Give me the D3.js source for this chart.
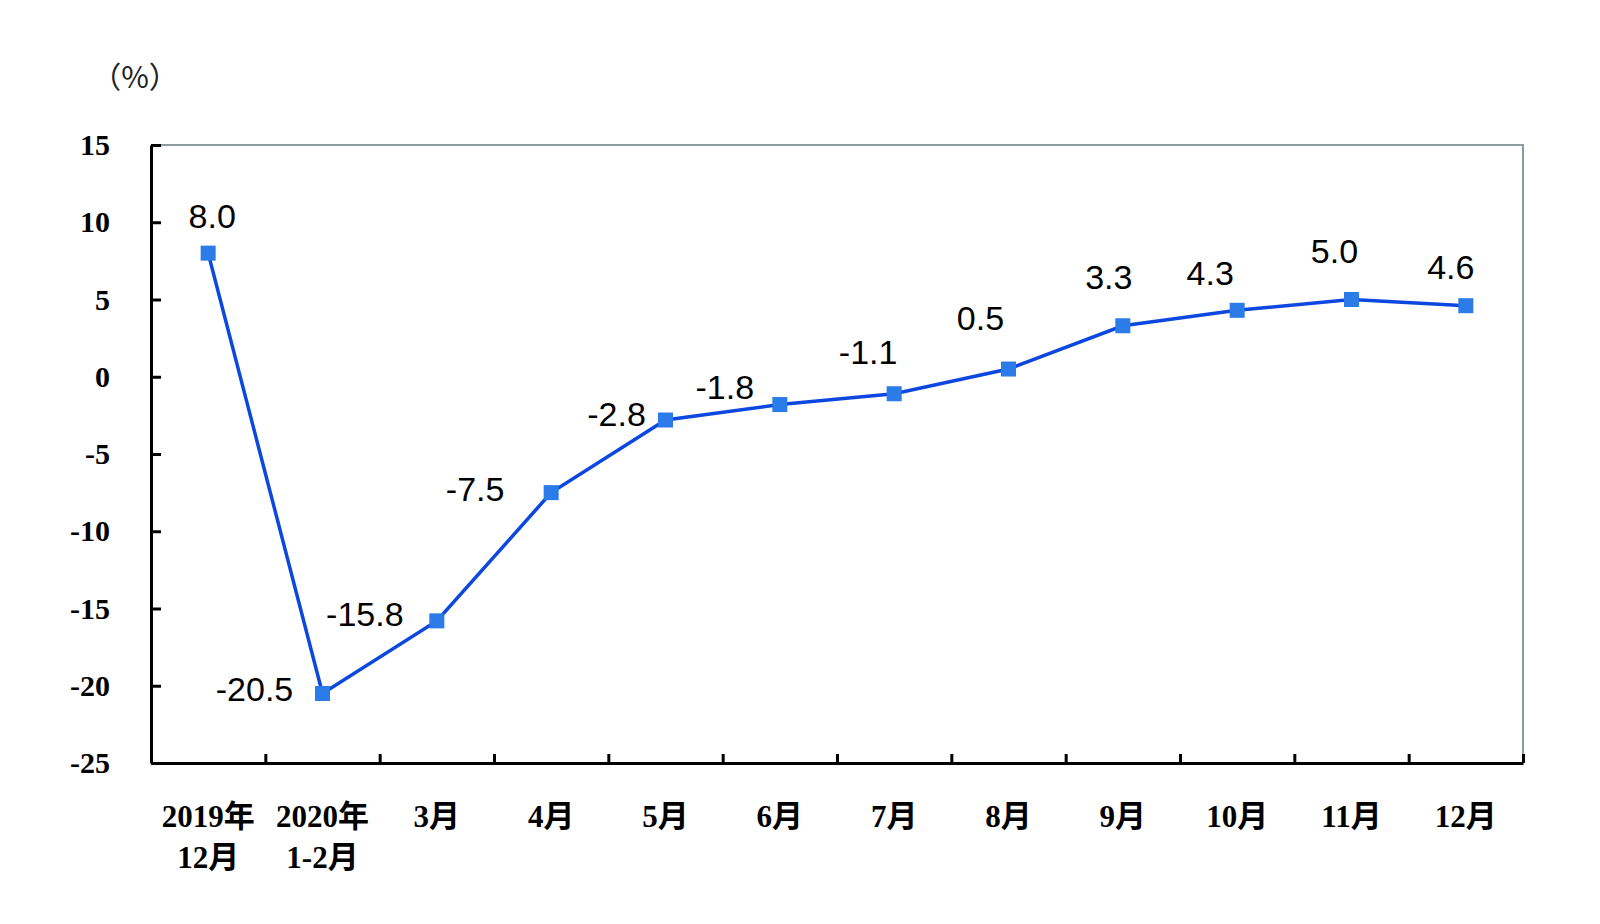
<!DOCTYPE html>
<html>
<head>
<meta charset="utf-8">
<script src="https://cdn.jsdelivr.net/npm/d3@7"></script>
<style>
  html, body { margin: 0; padding: 0; background: #fff; }
  svg { display: block; }
</style>
</head>
<body>
<svg id="chart" width="1600" height="924"></svg>
<script>
// ---- data ----
const categories = ["2019年\n12月", "2020年\n1-2月", "3月", "4月", "5月", "6月", "7月", "8月", "9月", "10月", "11月", "12月"];
const values = [8.0, -20.5, -15.8, -7.5, -2.8, -1.8, -1.1, 0.5, 3.3, 4.3, 5.0, 4.6];
const yTicks = [15, 10, 5, 0, -5, -10, -15, -20, -25];
const unitLabel = "（%）";

// ---- layout (label placement offsets, px) ----
const labelDx = [4, -68, -72, -76, -49, -55, -26, -28, -14, -27, -17, -15];
const labelDy = [-37, -4, -7, -4, -6, -18, -42, -51, -49, -37, -49, -39];

(function () {
const svg = d3.select("#chart");
const pLeft = 151, pRight = 1523, pTop = 145, pBottom = 763;

svg.append("rect").attr("width", 1600).attr("height", 924).attr("fill", "#fff");

const x = d3.scaleBand().domain(categories).range([pLeft, pRight]).padding(0);
const xIdx = d3.scaleLinear().domain([0, categories.length]).range([pLeft, pRight]);
const y = d3.scaleLinear().domain([-25, 15]).range([pBottom, pTop]);

// top & right border (gray)
svg.append("path")
  .attr("d", `M${xIdx(0)},${y(15)}H${xIdx(categories.length)}V${y(-25)}`)
  .attr("fill", "none").attr("stroke", "#8c9ca2").attr("stroke-width", 2);

// left axis
const yAxis = svg.append("g")
  .attr("transform", `translate(${pLeft},0)`)
  .call(d3.axisLeft(y).tickValues(yTicks).tickSizeInner(-10).tickSizeOuter(0).tickPadding(41)
        .tickFormat(d => String(d)));
yAxis.select(".domain").attr("stroke", "#000").attr("stroke-width", 3);
yAxis.selectAll(".tick line").attr("stroke", "#000").attr("stroke-width", 3);
yAxis.selectAll(".tick text")
  .attr("fill", "#000")
  .style("font-family", "'Liberation Serif', 'DejaVu Serif', serif")
  .style("font-weight", "bold")
  .style("font-size", "30px");

// bottom axis: ticks at band boundaries
const xTickAxis = svg.append("g")
  .attr("transform", `translate(0,${pBottom})`)
  .call(d3.axisBottom(xIdx).tickValues(d3.range(1, categories.length + 1)).tickSizeInner(-9).tickSizeOuter(0)
        .tickFormat(""));
xTickAxis.select(".domain").attr("stroke", "#000").attr("stroke-width", 3);
xTickAxis.selectAll(".tick line").attr("stroke", "#000").attr("stroke-width", 3);

// bottom category labels
const xLab = svg.append("g")
  .attr("transform", `translate(0,${pBottom})`)
  .call(d3.axisBottom(x).tickSize(0).tickPadding(0));
xLab.select(".domain").remove();
xLab.selectAll(".tick text").each(function(d) {
  const t = d3.select(this);
  t.text(null).attr("y", 0).attr("dy", null);
  const lines = d.split("\n");
  lines.forEach((ln, i) => {
    t.append("tspan").attr("x", 0).attr("y", 53 + i * 41).text(ln);
  });
})
  .attr("fill", "#000")
  .style("font-family", "'Liberation Serif', 'Noto Sans CJK SC', serif")
  .style("font-weight", "bold")
  .style("font-size", "31px")
  .attr("dominant-baseline", "central");

// unit label
svg.append("text")
  .attr("x", 135).attr("y", 75)
  .attr("text-anchor", "middle").attr("dominant-baseline", "central")
  .style("font-family", "'Noto Sans CJK SC', sans-serif")
  .style("font-size", "30px")
  .attr("fill", "#222")
  .text(unitLabel);

// line
const cx = (d, i) => x(categories[i]) + x.bandwidth() / 2;
const line = d3.line().x((d, i) => cx(d, i)).y(d => y(d));
svg.append("path")
  .datum(values)
  .attr("d", line)
  .attr("fill", "none")
  .attr("stroke", "#0c48e0")
  .attr("stroke-width", 3.5);

// markers
svg.selectAll("rect.mk")
  .data(values)
  .join("rect")
  .attr("class", "mk")
  .attr("x", (d, i) => cx(d, i) - 7.5)
  .attr("y", d => y(d) - 7.5)
  .attr("width", 15).attr("height", 15)
  .attr("fill", "#2b7be8");

// data labels
svg.selectAll("text.lbl")
  .data(values)
  .join("text")
  .attr("class", "lbl")
  .attr("x", (d, i) => cx(d, i) + labelDx[i])
  .attr("y", (d, i) => y(d) + labelDy[i])
  .attr("text-anchor", "middle")
  .attr("dominant-baseline", "central")
  .style("font-family", "'Liberation Sans', Arial, sans-serif")
  .style("font-size", "34px")
  .attr("fill", "#000")
  .text(d => d.toFixed(1));
})();
</script>
</body>
</html>
